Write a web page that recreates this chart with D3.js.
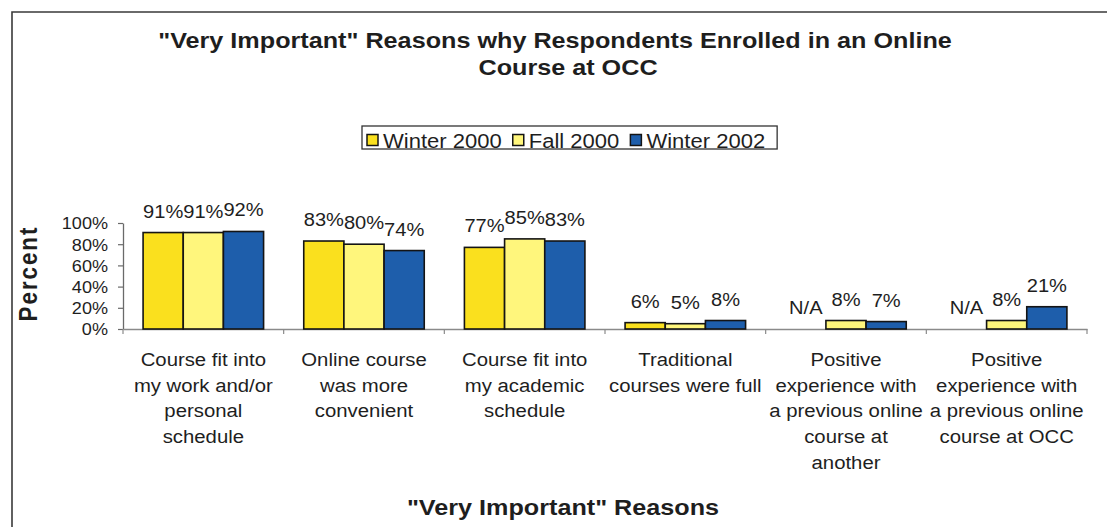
<!DOCTYPE html>
<html>
<head>
<meta charset="utf-8">
<script src="https://cdn.jsdelivr.net/npm/d3@7"></script>
<style>
  html, body { margin: 0; padding: 0; background: #fff; }
  svg { display: block; font-family: "Liberation Sans", Arial, Helvetica, sans-serif; }
</style>
</head>
<body>
<svg id="chart" width="1107" height="527"></svg>
<script>
// ---- data ----
const categories = [
  "Course fit into\nmy work and/or\npersonal\nschedule",
  "Online course\nwas more\nconvenient",
  "Course fit into\nmy academic\nschedule",
  "Traditional\ncourses were full",
  "Positive\nexperience with\na previous online\ncourse at\nanother",
  "Positive\nexperience with\na previous online\ncourse at OCC"
];
const seriesNames = ["Winter 2000", "Fall 2000", "Winter 2002"];
const winter2000 = [91, 83, 77, 6, null, null];
const fall2000   = [91, 80, 85, 5, 8, 8];
const winter2002 = [92, 74, 83, 8, 7, 21];
const yTicks = [0, 20, 40, 60, 80, 100];
const titleLines = ["\"Very Important\" Reasons why Respondents Enrolled in an Online", "Course at OCC"];
const xTitle = "\"Very Important\" Reasons";
const yTitle = "Percent";

// ---- styling ----
const seriesColors = ["#FAE01E", "#FFF67C", "#1E5EAB"];
const ink = "#1e1e1e";
const SX = 1.13; // horizontal text stretch

const svg = d3.select("#chart");
const W = 1107, H = 527;

// text helper: places text at (x,y) with a slight horizontal stretch
function addText(parent, x, y, str, size, weight, anchor, extra) {
  return parent.append("text")
    .attr("transform", `translate(${x},${y}) scale(${SX},1)` + (extra || ""))
    .attr("text-anchor", anchor || "middle")
    .attr("font-size", size)
    .attr("font-weight", weight || "normal")
    .attr("fill", ink)
    .text(str);
}

// outer frame (top and left edges)
svg.append("path")
  .attr("d", `M12,${H} L12,12 L${W},12`)
  .attr("fill", "none")
  .attr("stroke", "#3a3a3a")
  .attr("stroke-width", 1.6);

// title
addText(svg, 555, 48, titleLines[0], 22.3, "bold");
addText(svg, 568, 75, titleLines[1], 22.3, "bold");

// ---- scales ----
const plot = { left: 123, right: 1087, top: 223, bottom: 329 };
const series = [winter2000, fall2000, winter2002];

const x0 = d3.scaleBand()
  .domain(d3.range(categories.length))
  .range([plot.left, plot.right])
  .paddingInner(0).paddingOuter(0);

const x1 = d3.scaleBand()
  .domain(d3.range(seriesNames.length))
  .range([0, x0.bandwidth()])
  .paddingInner(0).paddingOuter(0.5);

const y = d3.scaleLinear().domain([0, 100]).range([plot.bottom, plot.top]);

// ---- axes ----
const yAxis = svg.append("g")
  .attr("transform", `translate(${plot.left},0)`)
  .call(d3.axisLeft(y).tickValues(yTicks).tickFormat(d => d + "%").tickSize(5).tickSizeOuter(0));
yAxis.select(".domain").attr("stroke", "#6a6a6a").attr("stroke-width", 1.3);
yAxis.selectAll(".tick line").attr("stroke", "#6a6a6a").attr("stroke-width", 1.2);
yAxis.selectAll(".tick text")
  .attr("x", null).attr("dy", null)
  .attr("transform", `translate(-15,5.8) scale(${SX},1)`)
  .attr("font-size", 16)
  .attr("font-family", null)
  .attr("fill", ink);

const xAxis = svg.append("g")
  .attr("transform", `translate(0,${plot.bottom})`)
  .call(d3.axisBottom(x0).tickSize(0).tickSizeOuter(0).tickFormat(""));
xAxis.select(".domain").attr("stroke", "#8a8a8a").attr("stroke-width", 1.3);

// category boundary ticks
const bounds = d3.range(categories.length + 1).map(i => plot.left + i * x0.step());
svg.append("g").selectAll("line").data(bounds).join("line")
  .attr("x1", d => d).attr("x2", d => d)
  .attr("y1", plot.bottom).attr("y2", plot.bottom + 5)
  .attr("stroke", "#8a8a8a").attr("stroke-width", 1.2);

// ---- bars ----
const groups = svg.append("g").selectAll("g")
  .data(categories.map((c, i) => i))
  .join("g")
  .attr("transform", i => `translate(${x0(i)},0)`);

groups.each(function (ci) {
  const g = d3.select(this);
  series.forEach((vals, si) => {
    const v = vals[ci];
    const bx = x1(si);
    if (v !== null) {
      g.append("rect")
        .attr("x", bx)
        .attr("y", y(v))
        .attr("width", x1.bandwidth())
        .attr("height", y(0) - y(v))
        .attr("fill", seriesColors[si])
        .attr("stroke", "#141414")
        .attr("stroke-width", 1.6);
    }
    const lv = v === null ? 0 : v;
    addText(g, bx + x1.bandwidth() / 2, y(lv) - 15, v === null ? "N/A" : v + "%", 17.8);
  });
});

// category labels
categories.forEach((c, i) => {
  const cx = x0(i) + x0.bandwidth() / 2;
  c.split("\n").forEach((line, li) => {
    addText(svg, cx, 366 + li * 25.7, line, 18);
  });
});

// axis titles
addText(svg, 563, 515, xTitle, 22.3, "bold");
addText(svg, 37, 273.5, yTitle, 22.3, "bold", "middle", " rotate(-90)")
  .attr("letter-spacing", 2);

// ---- legend ----
const legend = svg.append("g");
const legendBox = legend.append("rect")
  .attr("y", 126).attr("height", 23)
  .attr("fill", "#fff").attr("stroke", "#333").attr("stroke-width", 1.3);
let lx = 367;
seriesNames.forEach((name, i) => {
  legend.append("rect")
    .attr("x", lx).attr("y", 134.5).attr("width", 11).attr("height", 11)
    .attr("fill", seriesColors[i]).attr("stroke", "#141414").attr("stroke-width", 1.5);
  const t = addText(legend, lx + 16, 148, name, 19.5, "normal", "start");
  const w = t.node().getComputedTextLength() * SX;
  lx = lx + 16 + w + 11;
});
legendBox.attr("x", 362).attr("width", lx - 11 + 12 - 362);
</script>
</body>
</html>
